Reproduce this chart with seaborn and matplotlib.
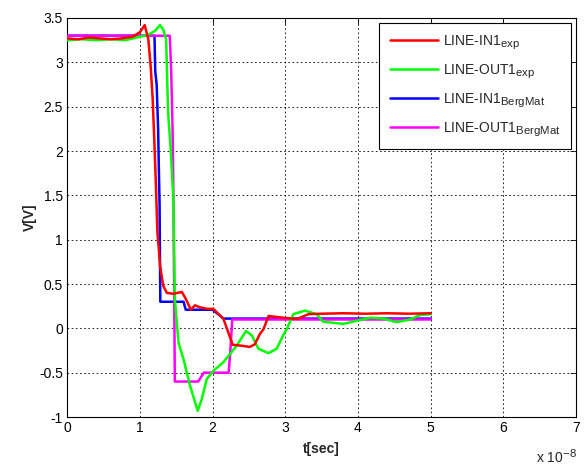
import matplotlib
matplotlib.use("Agg")
import matplotlib.pyplot as plt
import matplotlib._mathtext as _mt
import seaborn as sns
import pandas as pd

# larger subscripts in the legend labels
_mt.SHRINK_FACTOR = 0.82

# time axis in units of 1e-8 s, voltage in V
in1_exp_t = [0.0, 0.15, 0.3, 0.45, 0.6, 0.75, 0.9, 1.0, 1.065, 1.115, 1.147, 1.175, 1.197, 1.22,
             1.24, 1.26, 1.276, 1.32, 1.37, 1.46, 1.575, 1.62, 1.70, 1.757, 1.826, 1.92, 2.01,
             2.15, 2.215, 2.276, 2.40, 2.51, 2.58, 2.65, 2.70, 2.77, 2.86, 3.02, 3.16, 3.32,
             3.5, 3.8, 4.1, 4.4, 4.7, 5.0]
in1_exp_v = [3.27, 3.26, 3.28, 3.27, 3.26, 3.27, 3.29, 3.34, 3.42, 3.26, 2.96, 2.585, 2.13, 1.61,
             1.08, 0.89, 0.71, 0.48, 0.40, 0.39, 0.41, 0.35, 0.21, 0.26, 0.237, 0.22, 0.22,
             0.105, -0.045, -0.185, -0.196, -0.21, -0.18, -0.064, -0.01, 0.14, 0.13, 0.116, 0.105,
             0.16, 0.165, 0.17, 0.165, 0.17, 0.165, 0.17]

out1_exp_t = [0.0, 0.2, 0.4, 0.6, 0.8, 0.955, 1.115, 1.207, 1.276, 1.32, 1.36, 1.376, 1.39, 1.42,
              1.45, 1.46, 1.47, 1.48, 1.53, 1.60, 1.69, 1.795, 1.85, 1.92, 2.01, 2.15, 2.33,
              2.46, 2.54, 2.63, 2.77, 2.88, 2.97, 3.02, 3.11, 3.27, 3.43, 3.52, 3.80, 3.98,
              4.17, 4.35, 4.53, 4.72, 4.85, 5.0]
out1_exp_v = [3.25, 3.26, 3.25, 3.26, 3.25, 3.28, 3.31, 3.355, 3.42, 3.37, 3.26, 2.77, 2.40, 2.06,
              1.61, 1.46, 0.89, 0.33, -0.16, -0.35, -0.65, -0.93, -0.80, -0.57, -0.48, -0.38, -0.196,
              -0.03, -0.08, -0.23, -0.28, -0.23, -0.08, -0.008, 0.16, 0.20, 0.16, 0.075, 0.05, 0.085,
              0.12, 0.11, 0.07, 0.10, 0.15, 0.16]

in1_berg_t = [0.0, 1.20, 1.21, 1.23, 1.25, 1.26, 1.27, 1.28, 1.60, 1.63, 2.00, 2.15, 5.0]
in1_berg_v = [3.30, 3.30, 2.90, 2.75, 2.25, 1.80, 1.40, 0.30, 0.30, 0.21, 0.21, 0.11, 0.11]

out1_berg_t = [0.0, 1.41, 1.43, 1.45, 1.46, 1.47, 1.48, 1.80, 1.88, 2.22, 2.24, 2.27, 5.0]
out1_berg_v = [3.30, 3.30, 2.90, 2.20, 1.50, 0.50, -0.60, -0.60, -0.50, -0.50, -0.30, 0.10, 0.10]

series_labels = [r"LINE-IN1$_{\mathrm{exp}}$", r"LINE-OUT1$_{\mathrm{exp}}$",
                 r"LINE-IN1$_{\mathrm{BergMat}}$", r"LINE-OUT1$_{\mathrm{BergMat}}$"]
series_colors = ["#ff0000", "#00ff00", "#0000ff", "#ff00ff"]
series_z = [5, 4, 2, 3]

x_ticks = [0, 1, 2, 3, 4, 5, 6, 7]
y_ticks = [-1, -0.5, 0, 0.5, 1, 1.5, 2, 2.5, 3, 3.5]
y_tick_labels = ["-1", "-0.5", "0", "0.5", "1", "1.5", "2", "2.5", "3", "3.5"]

sns.set_style("white")
plt.rcParams["font.family"] = ["Liberation Sans", "DejaVu Sans"]
plt.rcParams["mathtext.fontset"] = "custom"
plt.rcParams["mathtext.rm"] = "Liberation Sans"
plt.rcParams["mathtext.it"] = "Liberation Sans:italic"
plt.rcParams["mathtext.bf"] = "Liberation Sans:bold"

fig = plt.figure(figsize=(5.86, 4.65), dpi=100)
ax = fig.add_axes([0.1148, 0.1032, 0.983 - 0.1148, 0.9613 - 0.1032])

data = [(in1_exp_t, in1_exp_v), (out1_exp_t, out1_exp_v),
        (in1_berg_t, in1_berg_v), (out1_berg_t, out1_berg_v)]
for (t, v), lab, col, z in zip(data, series_labels, series_colors, series_z):
    df = pd.DataFrame({"t": t, "v": v})
    sns.lineplot(data=df, x="t", y="v", ax=ax, color=col, lw=1.8, label=lab,
                 sort=False, estimator=None, zorder=z)

ax.set_xlim(0, 7)
ax.set_ylim(-1, 3.5)
ax.set_xticks(x_ticks)
ax.set_xticklabels([str(x) for x in x_ticks])
ax.set_yticks(y_ticks)
ax.set_yticklabels(y_tick_labels)
ax.tick_params(direction="in", length=4, width=0.6, top=True, right=True,
               labelsize=10, colors="black", pad=3)
ax.tick_params(axis="x", pad=3)
ax.grid(True, color="black", linestyle=(0, (2, 3)), linewidth=0.6)
for s in ax.spines.values():
    s.set_color("black")
    s.set_linewidth(0.8)
ax.set_xlabel("t[sec]", fontsize=10, fontweight="bold", labelpad=5)
ax.set_ylabel("V[V]", fontsize=10, fontweight="bold", labelpad=2)

leg = ax.legend(loc="upper right", fontsize=10, frameon=True, fancybox=False,
                handlelength=3.5, borderaxespad=0.35, labelspacing=0.8,
                borderpad=0.75, handletextpad=0.35)
leg.get_frame().set_edgecolor("black")
leg.get_frame().set_linewidth(0.8)
leg.get_frame().set_alpha(1)

fig.text(0.985, 0.004, r"x 10$^{-8}$", fontsize=10, ha="right", va="baseline")

fig.savefig("out.png", dpi=100, facecolor="white")
